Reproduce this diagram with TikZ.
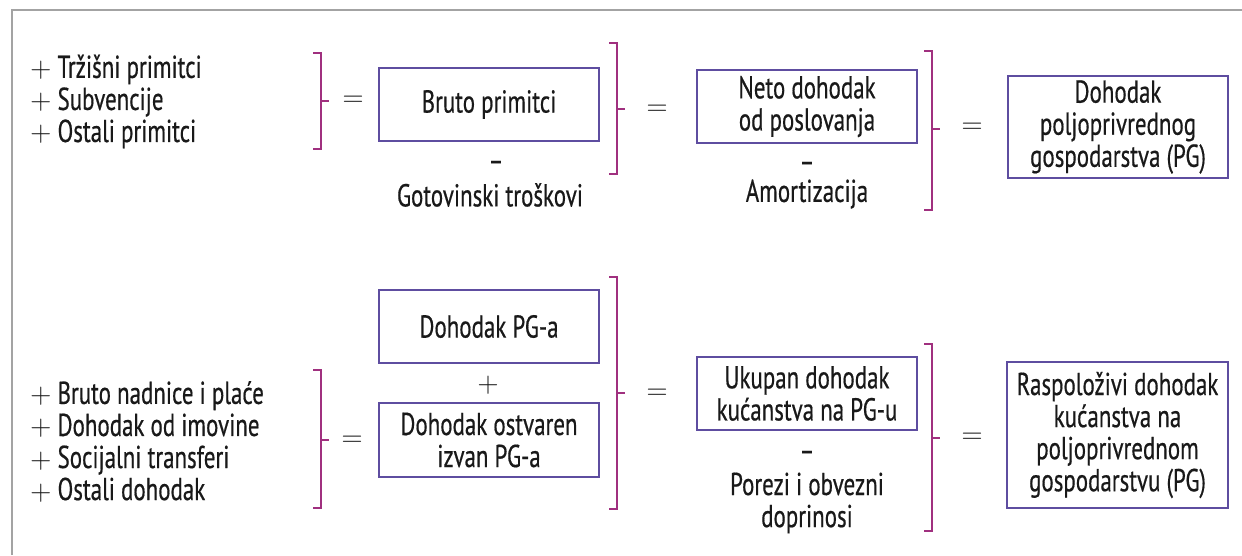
\documentclass[tikz,border=0pt]{standalone}
\usepackage{fontspec}
\setmainfont{PT Sans}[FakeStretch=0.725, FakeBold=0.5]
\usetikzlibrary{positioning}
\definecolor{brk}{HTML}{A0307F}
\definecolor{boxline}{HTML}{5E4DA0}
\definecolor{framegray}{HTML}{A3A3A3}
\tikzset{every node/.style={font=\fontsize{22.5}{22.8}\selectfont, text=black!90, align=center}}
\tikzset{incbox/.style={draw=boxline, line width=1.2pt, inner sep=0pt}}
\tikzset{opsign/.style={font=\fontsize{20}{20}\selectfont}}
\tikzset{minus/.style={inner sep=0pt}}
\newcommand{\lplus}{{\fontsize{20}{20}\selectfont$+$}\hspace{4.5pt}}
\newcommand{\brkt}[4]{%
	\draw[brk, line width=1.6pt] (#1-8,#2) -- (#1,#2) -- (#1,#3) -- (#1-8,#3);
	\draw[brk, line width=1.6pt] (#1,#4) -- (#1+8,#4);
}

\begin{document}
\begin{tikzpicture}[x=0.025cm, y=-0.025cm, line cap=butt, line join=miter]
	\useasboundingbox (0,0) rectangle (1242,555);
	
	% Frame
	\draw[framegray, line width=1.4pt] (12,555) -- (12,10) -- (1242,10);
	
	% Top row
	\node[anchor=west, align=left, inner sep=0pt] (primitci) at (30,101.5) {\lplus Tržišni primitci\\\lplus Subvencije\\\lplus Ostali primitci};
	\brkt{321}{53}{149}{101}
	\node[opsign] (eqa) at (353,101) {$=$};
	\node[incbox, minimum width=5.5cm, minimum height=1.825cm] (bruto) at (489,104.5) {Bruto primitci};
	\node[minus] (mina) at (496,166) {–};
	\node (gotov) at (490,195) {Gotovinski troškovi};
	\brkt{617}{43}{174}{109}
	\node[opsign] (eqb) at (657,110) {$=$};
	\node[incbox, minimum width=5.5cm, minimum height=1.825cm] (neto) at (807,106.5) {Neto dohodak\\od poslovanja};
	\node[minus] (minb) at (807,167) {–};
	\node (amort) at (807,194) {Amortizacija};
	\brkt{932}{51}{210}{129}
	\node[opsign] (eqc) at (972,128) {$=$};
	\node[incbox, minimum width=5.5cm, minimum height=2.55cm] (dohpg) at (1118,127) {Dohodak\\poljoprivrednog\\gospodarstva (PG)};
	
	% Bottom row
	\node[anchor=west, align=left, inner sep=0pt] (dohodci) at (30,441.5) {\lplus Bruto nadnice i plaće\\\lplus Dohodak od imovine\\\lplus Socijalni transferi\\\lplus Ostali dohodak};
	\brkt{321}{370}{508}{440}
	\node[opsign] (eqd) at (352,441) {$=$};
	\node[incbox, minimum width=5.5cm, minimum height=1.825cm] (dohpga) at (489,326.5) {Dohodak PG-a};
	\node[opsign] (plus) at (488,385) {$+$};
	\node[incbox, minimum width=5.5cm, minimum height=1.85cm] (izvan) at (489,440) {Dohodak ostvaren\\izvan PG-a};
	\brkt{617}{277}{509}{393}
	\node[opsign] (eqe) at (657,394) {$=$};
	\node[incbox, minimum width=5.5cm, minimum height=1.825cm] (ukupan) at (807,393.5) {Ukupan dohodak\\kućanstva na PG-u};
	\node[minus] (minc) at (807,456) {–};
	\node (porezi) at (807,503) {Porezi i obvezni\\doprinosi};
	\brkt{932}{344}{531}{438}
	\node[opsign] (eqf) at (972,438) {$=$};
	\node[incbox, minimum width=5.525cm, minimum height=3.65cm] (raspol) at (1117.5,435) {Raspoloživi dohodak\\kućanstva na\\poljoprivrednom\\gospodarstvu (PG)};
\end{tikzpicture}
\end{document}
